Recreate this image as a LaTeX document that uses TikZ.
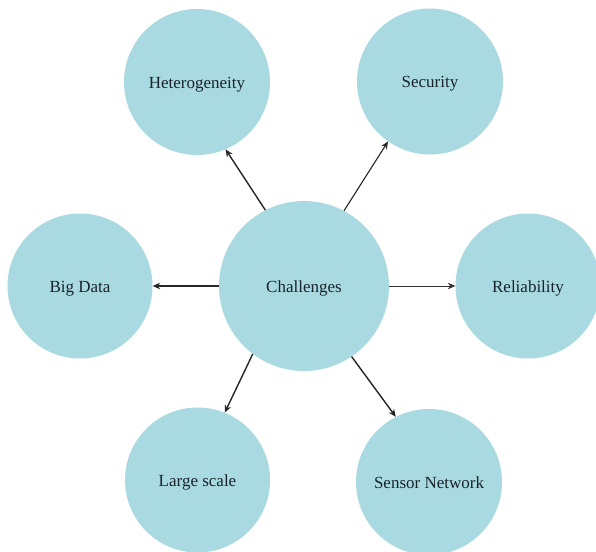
\documentclass[tikz,border=0pt]{standalone}
\usepackage{fontspec}
\setmainfont{Liberation Serif}
\usetikzlibrary{arrows.meta}
\definecolor{bubble}{RGB}{170,218,225}
\definecolor{ink}{RGB}{25,35,42}
\begin{document}
\begin{tikzpicture}[x=1pt,y=-1pt,
  topic/.style={circle,fill=bubble,inner sep=0pt,text=ink,
    text height=16pt,text depth=4pt,
    font=\fontsize{17}{19}\selectfont},
  link/.style={-{Stealth[length=7.5pt,width=6.5pt]},line width=1.4pt,draw=black!85},
  thinlink/.style={-{Stealth[length=7.5pt,width=6.5pt]},line width=0.7pt,draw=black!80}]
\useasboundingbox (0,0) rectangle (596,551);
\fill[white] (0,0) rectangle (596,551);

\node[topic,minimum size=170pt] (ch)  at (304,286)  {Challenges};
\node[topic,minimum size=146pt] (het) at (197,82)   {Heterogeneity};
\node[topic,minimum size=146pt] (sec) at (430,81.5) {Security};
\node[topic,minimum size=145pt] (bd)  at (80,286)   {Big Data};
\node[topic,minimum size=145pt] (rel) at (528,286)  {Reliability};
\node[topic,minimum size=145pt] (ls)  at (197.5,480){Large scale};
\node[topic,minimum size=146pt] (sn)  at (429,482)  {Sensor Network};

\draw[link] (ch.117.5) -- (het.-67.6);
\draw[link,line width=1.1pt] (ch.62.5) -- (sec.-125.4);
\draw[link] (ch.west) -- (bd.east);
\draw[thinlink] (ch.east) -- (rel.west);
\draw[link] (ch.-127) -- (ls.68.3);
\draw[link] (ch.-56.3) -- (sn.117.4);
\end{tikzpicture}
\end{document}
